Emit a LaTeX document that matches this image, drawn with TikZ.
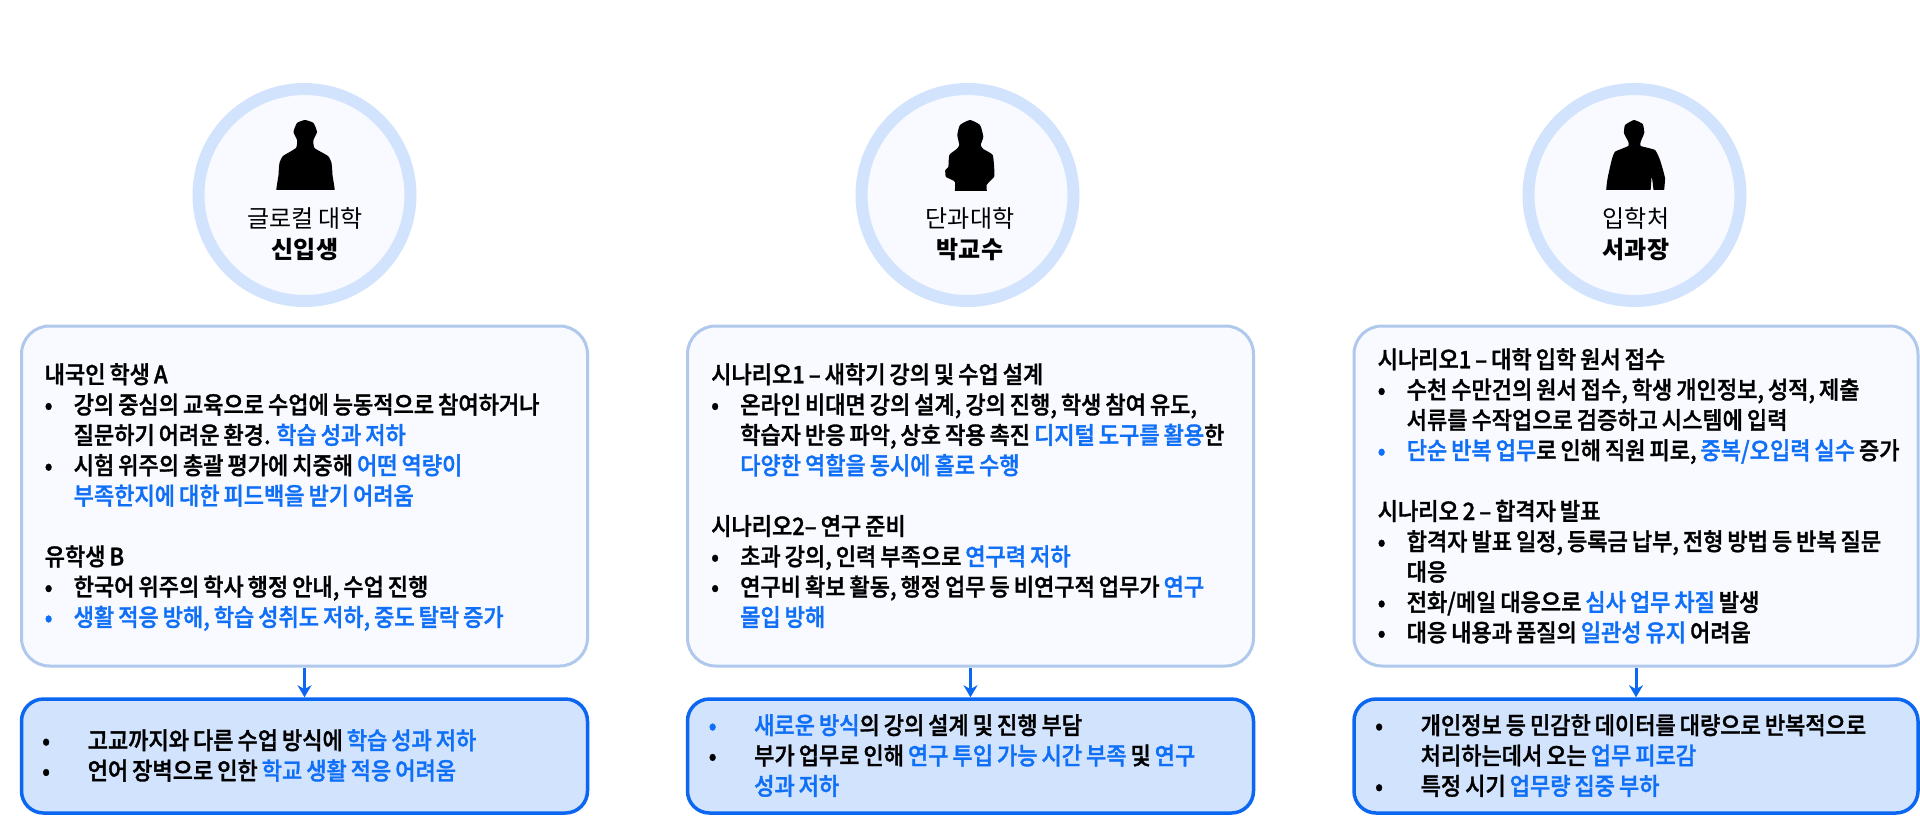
\documentclass[tikz,border=0pt]{standalone}
\usepackage{fontspec}
\usetikzlibrary{arrows.meta}
\newfontfamily\krbody[WordSpace=0.8,FakeBold=1.4,FakeStretch=0.918]{Noto Sans CJK KR Medium}
\newfontfamily\krplain{Noto Sans CJK KR}
\definecolor{kblue}{HTML}{0F6FF7}
\definecolor{ring}{HTML}{D2E3FD}
\definecolor{pale}{HTML}{F8FAFF}
\definecolor{softline}{HTML}{AFC8EC}
\definecolor{strongline}{HTML}{0B66F2}
\newcommand\bl[1]{\textcolor{kblue}{#1}}
\newcommand\ia{\makebox[29pt][l]{•}}
\newcommand\ca{\makebox[29pt]{}}
\newcommand\ib{\makebox[45.5pt][l]{•}}
\newcommand\cb{\makebox[45.5pt]{}}
\tikzset{
  persona/.style={circle,draw=ring,fill=pale,line width=12pt,minimum size=212pt,inner sep=0pt},
  rolelabel/.style={align=center,inner sep=0pt,font={\krplain\fontsize{24}{31}\selectfont}},
  upperbox/.style={draw=softline,fill=pale,line width=3pt,rounded corners=28pt,minimum height=340pt,inner sep=0pt},
  lowerbox/.style={draw=strongline,fill=ring,line width=3.5pt,rounded corners=22pt,minimum height=114pt,inner sep=0pt},
  bodytext/.style={anchor=north west,align=left,inner sep=0pt,font={\krbody\fontsize{24}{30.35}\selectfont}},
  flow/.style={draw=strongline,line width=3pt,-{Stealth[length=12pt,width=14pt]}},
  silhouette/.style={fill=black,draw=none}
}
\begin{document}
\begin{tikzpicture}[x=1pt,y=-1pt]
\useasboundingbox (0,0) rectangle (1920,817);
\fill[white] (0,0) rectangle (1920,817);

% personas
\node[persona] (c1) at (304.5,195) {};
\node[persona] (c2) at (967.5,195) {};
\node[persona] (c3) at (1634.5,195) {};

\begin{scope}
\clip (270,110) rectangle (340,189.5);
\fill[silhouette] plot[smooth cycle,tension=0.3] coordinates {(278,200) (278.5,175) (279.5,163) (283,156) (296,148) (297,140) (293.5,132) (297,123) (305,120) (313.5,123) (317,132) (313.5,140) (314.5,148) (328,156) (331.5,163) (332.5,175) (333,200)};
\end{scope}
\begin{scope}
\clip (935,110) rectangle (1005,190);
\fill[silhouette] plot[smooth cycle,tension=0.3] coordinates {(956,200) (955,182) (946,177) (945.3,170) (948.3,167) (949.3,155) (956.7,149) (959.3,145) (957.3,135) (960,125) (970,120) (980,125) (983.3,136.7) (980.7,145) (983.3,149) (992.7,155) (994.3,170) (994,177) (986.7,185) (985.7,200)};
\end{scope}
\begin{scope}
\clip (1600,110) rectangle (1670,189.5);
\fill[silhouette] plot[smooth cycle,tension=0.25] coordinates {(1607.3,200) (1607.3,180) (1611.7,160) (1615,151.7) (1628.3,146) (1628.3,141.7) (1624,133.3) (1625,125) (1634,120) (1642.7,124) (1644.3,132.7) (1640.7,141.7) (1640.7,146) (1655,150) (1660,160) (1665,178.3) (1662.7,200) (1655,200) (1651.7,176.7) (1648,200)};
\end{scope}

\node[rolelabel] (r1) at (305,234.5) {글로컬 대학\\{\bfseries 신입생}};
\node[rolelabel] (r2) at (970,234.5) {단과대학\\{\bfseries 박교수}};
\node[rolelabel] (r3) at (1636,234.5) {입학처\\{\bfseries 서과장}};

% upper boxes
\node[upperbox,minimum width=566pt] (u1) at (304.5,496) {};
\node[upperbox,minimum width=566pt] (u2) at (970.5,496) {};
\node[upperbox,minimum width=564pt] (u3) at (1636,496) {};

% lower boxes
\node[lowerbox,minimum width=566pt] (l1) at (304.5,756) {};
\node[lowerbox,minimum width=566pt] (l2) at (970.5,756) {};
\node[lowerbox,minimum width=564pt] (l3) at (1636,756) {};

% connectors
\draw[flow] (u1.south) -- (l1.north);
\draw[flow] (u2.south) -- (l2.north);
\draw[flow] (u3.south) -- (l3.north);

% texts
\node[bodytext] (t1) at (44.5,363) {내국인 학생 A\\
\ia 강의 중심의 교육으로 수업에 능동적으로 참여하거나\\
\ca 질문하기 어려운 환경. \bl{학습 성과 저하}\\
\ia 시험 위주의 총괄 평가에 치중해 \bl{어떤 역량이}\\
\ca \bl{부족한지에 대한 피드백을 받기 어려움}\\
\mbox{}\\
유학생 B\\
\ia 한국어 위주의 학사 행정 안내, 수업 진행\\
\bl{\ia 생활 적응 방해, 학습 성취도 저하, 중도 탈락 증가}};

\node[bodytext] (t2) at (711,363) {시나리오1 – 새학기 강의 및 수업 설계\\
\ia 온라인 비대면 강의 설계, 강의 진행, 학생 참여 유도,\\
\ca 학습자 반응 파악, 상호 작용 촉진 \bl{디지털 도구를 활용}한\\
\ca \bl{다양한 역할을 동시에 홀로 수행}\\
\mbox{}\\
시나리오2– 연구 준비\\
\ia 초과 강의, 인력 부족으로 \bl{연구력 저하}\\
\ia 연구비 확보 활동, 행정 업무 등 비연구적 업무가 \bl{연구}\\
\ca \bl{몰입 방해}};

\node[bodytext] (t3) at (1377.5,348) {시나리오1 – 대학 입학 원서 접수\\
\ia 수천 수만건의 원서 접수, 학생 개인정보, 성적, 제출\\
\ca 서류를 수작업으로 검증하고 시스템에 입력\\
\bl{\ia 단순 반복 업무}로 인해 직원 피로, \bl{중복/오입력 실수} 증가\\
\mbox{}\\
시나리오 2 – 합격자 발표\\
\ia 합격자 발표 일정, 등록금 납부, 전형 방법 등 반복 질문\\
\ca 대응\\
\ia 전화/메일 대응으로 \bl{심사 업무 차질} 발생\\
\ia 대응 내용과 품질의 \bl{일관성 유지} 어려움};

\node[bodytext] (b1) at (42,729) {\ib 고교까지와 다른 수업 방식에 \bl{학습 성과 저하}\\
\ib 언어 장벽으로 인한 \bl{학교 생활 적응 어려움}};

\node[bodytext] (b2) at (708.5,714) {\bl{\ib 새로운 방식}의 강의 설계 및 진행 부담\\
\ib 부가 업무로 인해 \bl{연구 투입 가능 시간 부족} 및 \bl{연구}\\
\cb \bl{성과 저하}};

\node[bodytext] (b3) at (1375,714) {\ib 개인정보 등 민감한 데이터를 대량으로 반복적으로\\
\cb 처리하는데서 오는 \bl{업무 피로감}\\
\ib 특정 시기 \bl{업무량 집중 부하}};
\end{tikzpicture}
\end{document}
